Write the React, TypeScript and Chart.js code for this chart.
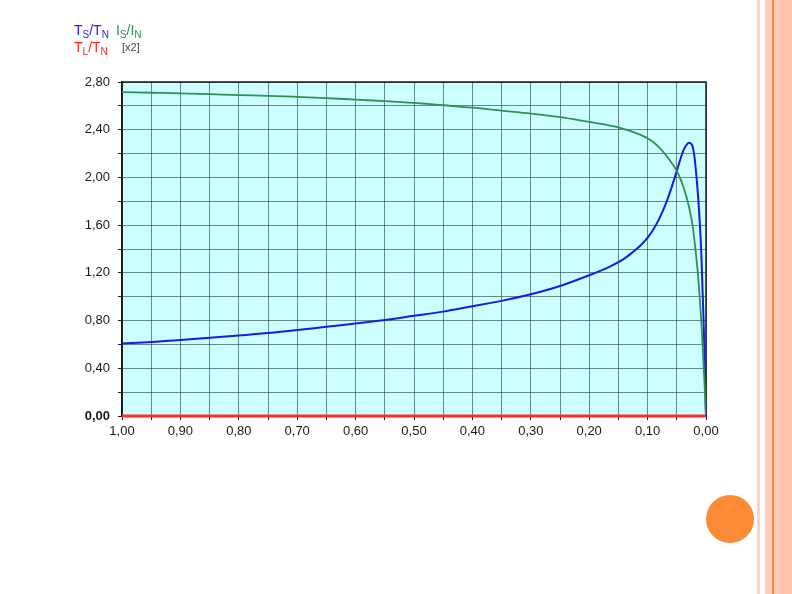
import React, { useEffect, useRef } from "react";
import { Chart, registerables } from "chart.js";

Chart.register(...registerables);

// Slip values (x axis, 1,00 -> 0,00)
const slip = [1.0, 0.95, 0.9, 0.85, 0.8, 0.75, 0.7, 0.65, 0.6, 0.55, 0.5, 0.45, 0.4, 0.35, 0.3, 0.25, 0.2, 0.17, 0.15, 0.14, 0.13, 0.12, 0.11, 0.1, 0.09, 0.08, 0.07, 0.06, 0.05, 0.044, 0.038, 0.033, 0.029, 0.026, 0.023, 0.02, 0.016, 0.012, 0.008, 0.004, 0.0];
// Ts/Tn (blue)
const torqueTS = [0.608, 0.62, 0.637, 0.656, 0.675, 0.695, 0.72, 0.748, 0.775, 0.805, 0.84, 0.875, 0.92, 0.965, 1.02, 1.09, 1.18, 1.24, 1.29, 1.32, 1.355, 1.395, 1.44, 1.495, 1.565, 1.655, 1.765, 1.9, 2.055, 2.15, 2.235, 2.275, 2.29, 2.285, 2.26, 2.18, 1.99, 1.73, 1.36, 0.78, 0.0];
// Is/In (green)
const currentIS = [2.715, 2.71, 2.705, 2.698, 2.69, 2.684, 2.675, 2.665, 2.652, 2.64, 2.625, 2.605, 2.585, 2.56, 2.535, 2.505, 2.465, 2.44, 2.42, 2.405, 2.39, 2.372, 2.352, 2.328, 2.295, 2.25, 2.195, 2.13, 2.055, 1.99, 1.91, 1.83, 1.75, 1.68, 1.6, 1.48, 1.3, 1.08, 0.79, 0.42, 0.0];
// TL/TN (red)
const loadSlip = [1.0, 0.0];
const loadTL = [0.0, 0.0];

const fmt = (v: number) => v.toFixed(2).replace(".", ",");

const bgPlugin = {
  id: "plotBg",
  beforeDraw(chart: any) {
    const { ctx, chartArea } = chart;
    ctx.save();
    ctx.fillStyle = "#ccffff";
    ctx.fillRect(chartArea.left, chartArea.top, chartArea.right - chartArea.left, chartArea.bottom - chartArea.top);
    ctx.restore();
  },
  beforeDatasetsDraw(chart: any) {
    const { ctx, chartArea } = chart;
    ctx.save();
    ctx.strokeStyle = "#1a1a1a";
    ctx.lineWidth = 1.5;
    ctx.strokeRect(chartArea.left, chartArea.top, chartArea.right - chartArea.left, chartArea.bottom - chartArea.top);
    ctx.restore();
  },
};

function App() {
  const ref = useRef<HTMLCanvasElement | null>(null);
  useEffect(() => {
    if (!ref.current) return;
    const chart = new Chart(ref.current, {
      type: "line",
      data: {
        datasets: [
          {
            label: "TL/TN",
            data: loadSlip.map((s, i) => ({ x: s, y: loadTL[i] })),
            borderColor: "#ff2a2a",
            borderWidth: 3,
            pointRadius: 0,
            clip: false,
          },
          {
            label: "Is/In",
            data: slip.map((s, i) => ({ x: s, y: currentIS[i] })),
            borderColor: "#2e9150",
            borderWidth: 1.8,
            pointRadius: 0,
            cubicInterpolationMode: "monotone",
          },
          {
            label: "Ts/Tn",
            data: slip.map((s, i) => ({ x: s, y: torqueTS[i] })),
            borderColor: "#1a1ae6",
            borderWidth: 2,
            pointRadius: 0,
            cubicInterpolationMode: "monotone",
          },
        ],
      },
      options: {
        animation: false,
        responsive: false,
        devicePixelRatio: 1,
        layout: { padding: { left: 60, top: 82, right: 86, bottom: 148 } },
        plugins: { legend: { display: false }, tooltip: { enabled: false } },
        scales: {
          x: {
            type: "linear",
            reverse: true,
            min: 0,
            max: 1,
            afterFit: (s: any) => { s.height = 30; },
            ticks: {
              stepSize: 0.05,
              autoSkip: false,
              maxRotation: 0,
              padding: 4,
              color: "#1a1a1a",
              font: { family: "Liberation Sans, Arial", size: 13 },
              callback: (v: any) => (Math.round(Number(v) * 20) % 2 === 0 ? fmt(Number(v)) : ""),
            },
            grid: { color: "rgba(30,60,60,0.6)", lineWidth: 1, tickLength: 4, tickColor: "#222" },
            border: { color: "#111", width: 1.5 },
          },
          y: {
            min: 0,
            max: 2.8,
            afterFit: (s: any) => { s.width = 62; },
            ticks: {
              stepSize: 0.2,
              autoSkip: false,
              padding: 8,
              color: "#1a1a1a",
              font: (c: any) => ({
                family: "Liberation Sans, Arial",
                size: 13,
                weight: c.tick && c.tick.value === 0 ? "bold" : "normal",
              }),
              callback: (v: any) => (Math.round(Number(v) * 5) % 2 === 0 ? fmt(Number(v)) : ""),
            },
            grid: { color: "rgba(30,60,60,0.6)", lineWidth: 1, tickLength: 4, tickColor: "#222" },
            border: { color: "#111", width: 1.5 },
          },
        },
      },
      plugins: [bgPlugin],
    } as any);
    return () => chart.destroy();
  }, []);

  const lab: React.CSSProperties = { position: "absolute", fontFamily: "Liberation Sans, Arial", fontSize: 14, lineHeight: "14px", whiteSpace: "nowrap" };
  const sub: React.CSSProperties = { fontSize: 10, verticalAlign: "-3px" };

  return (
    <div style={{ position: "absolute", left: 0, top: 0, width: 792, height: 594, background: "#fff", overflow: "hidden" }}>
      <canvas ref={ref} width={792} height={594} style={{ position: "absolute", left: 0, top: 0, width: 792, height: 594 }} />
      <div style={{ ...lab, left: 74, top: 23, color: "#2222ee" }}>T<span style={sub}>S</span>/T<span style={sub}>N</span></div>
      <div style={{ ...lab, left: 116, top: 23, color: "#2e9150" }}>I<span style={sub}>S</span>/I<span style={sub}>N</span></div>
      <div style={{ ...lab, left: 74, top: 40, color: "#ff2222" }}>T<span style={sub}>L</span>/T<span style={sub}>N</span></div>
      <div style={{ ...lab, left: 122, top: 40, color: "#444", fontSize: 11 }}>[x2]</div>
      {/* decorative right stripes */}
      <div style={{ position: "absolute", left: 757, top: 0, width: 3, height: 594, background: "#fcd2c2" }} />
      <div style={{ position: "absolute", left: 765, top: 0, width: 27, height: 594, background: "#ffcdb8" }} />
      <div style={{ position: "absolute", left: 779, top: 0, width: 13, height: 594, background: "#ffc6ae" }} />
      <div style={{ position: "absolute", left: 772, top: 0, width: 1.5, height: 594, background: "#ff8a3a" }} />
      <div style={{ position: "absolute", left: 706, top: 495, width: 48, height: 48, borderRadius: "50%", background: "#fd8a35" }} />
    </div>
  );
}

export default App;
